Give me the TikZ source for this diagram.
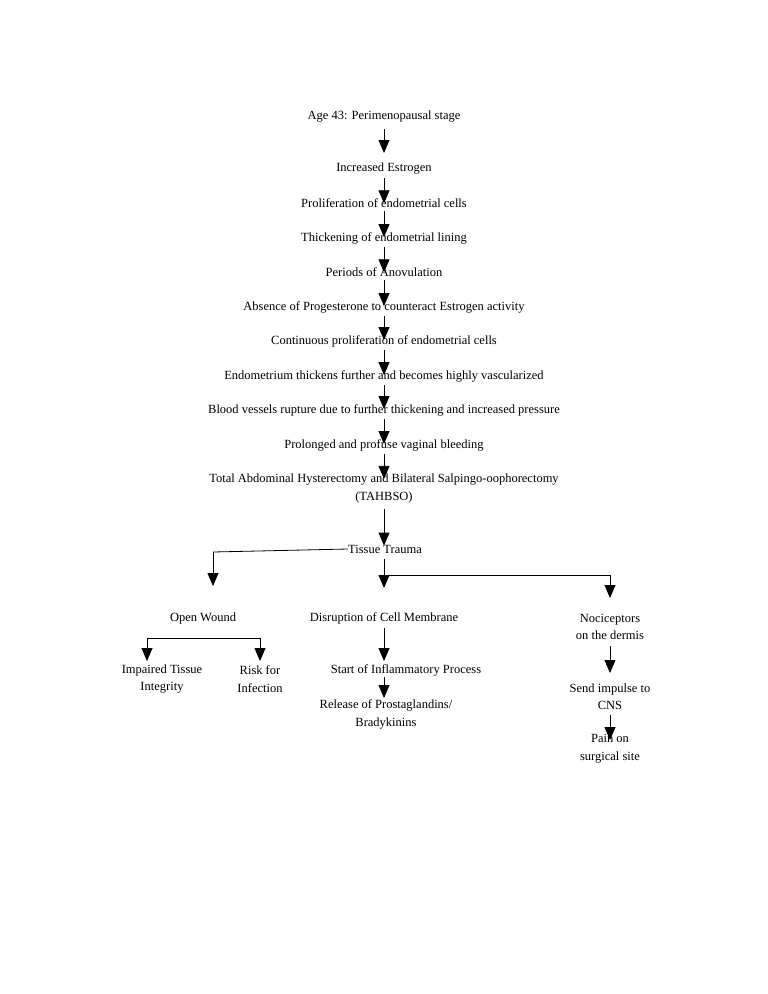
\documentclass[tikz,border=0pt]{standalone}
\usepackage{fontspec}
\setmainfont{Liberation Serif}
\usetikzlibrary{arrows.meta}
\begin{document}
\begin{tikzpicture}[x=1pt,y=-1pt,
  txt/.style={inner sep=0pt,align=center,font=\fontsize{12.5}{17.5}\selectfont},
  arr/.style={-{Triangle[width=11pt,length=13pt]},line width=0.8pt},
  ln/.style={line width=0.8pt}]
\useasboundingbox (0,0) rectangle (768,994);
\node[txt] (n1) at (384,117) {Age 43: Perimenopausal stage};
\node[txt] (n2) at (384,169) {Increased Estrogen};
\node[txt] (n3) at (384,203) {Proliferation of endometrial cells};
\node[txt] (n4) at (384,238) {Thickening of endometrial lining};
\node[txt] (n5) at (384,272) {Periods of Anovulation};
\node[txt] (n6) at (384,307) {Absence of Progesterone to counteract Estrogen activity};
\node[txt] (n7) at (384,341) {Continuous proliferation of endometrial cells};
\node[txt] (n8) at (384,376) {Endometrium thickens further and becomes highly vascularized};
\node[txt] (n9) at (384,410) {Blood vessels rupture due to further thickening and increased pressure};
\node[txt] (n10) at (384,445) {Prolonged and profuse vaginal bleeding};
\node[txt] (n11) at (384,488.5) {Total Abdominal Hysterectomy and Bilateral Salpingo-oophorectomy\\(TAHBSO)};
\node[txt] (tt) at (385,549) {Tissue Trauma};
\node[txt] (ow) at (203,618) {Open Wound};
\node[txt] (dc) at (384,618) {Disruption of Cell Membrane};
\node[txt] (no) at (610,627) {Nociceptors\\on the dermis};
\node[txt] (it) at (162,679) {Impaired Tissue\\Integrity};
\node[txt] (ri) at (260,679) {Risk for\\Infection};
\node[txt] (si) at (406,670) {Start of Inflammatory Process};
\node[txt] (rp) at (386,714.5) {Release of Prostaglandins/\\Bradykinins};
\node[txt] (se) at (610,696.5) {Send impulse to\\CNS};
\node[txt] (pa) at (610,748.5) {Pain on\\surgical site};
\coordinate (b1) at (213,552);
\coordinate (b2) at (384,575);
\coordinate (b3) at (147,638);
\coordinate (b4) at (203,638);
\draw[arr] (n1.south -| 384,0) ++(0,6) -- (384,153);
\foreach \a/\b in {n2/n3,n3/n4,n4/n5,n5/n6,n6/n7,n7/n8,n8/n9,n9/n10,n10/n11}{
  \draw[arr] ([yshift=-3pt]\a.south -| 384,0) -- ([yshift=-5pt]\b.north -| 384,0);}
\draw[arr] ([yshift=-6pt]n11.south -| 384,0) -- ([yshift=-1pt]tt.north -| 384,0);
\draw[ln] (tt.west) -- (b1);
\draw[arr] (b1) -- (213,586);
\draw[arr] ([yshift=-6pt]tt.south -| 384,0) -- (384,588);
\draw[ln] (b2) -- (610,575);
\draw[arr] (610,575) -- (610,598);
\draw[ln] (b3) -- (260,638);
\draw[arr] (b3) -- (147,661);
\draw[arr] (260,638) -- (260,661);
\draw[arr] ([yshift=-4pt]dc.south -| 384,0) -- (384,661);
\draw[arr] ([yshift=-1pt]si.south -| 384,0) -- (384,698);
\draw[arr] ([yshift=-6pt]no.south) -- (610,673);
\draw[arr] ([yshift=-5pt]se.south) -- (610,740);
\end{tikzpicture}
\end{document}
